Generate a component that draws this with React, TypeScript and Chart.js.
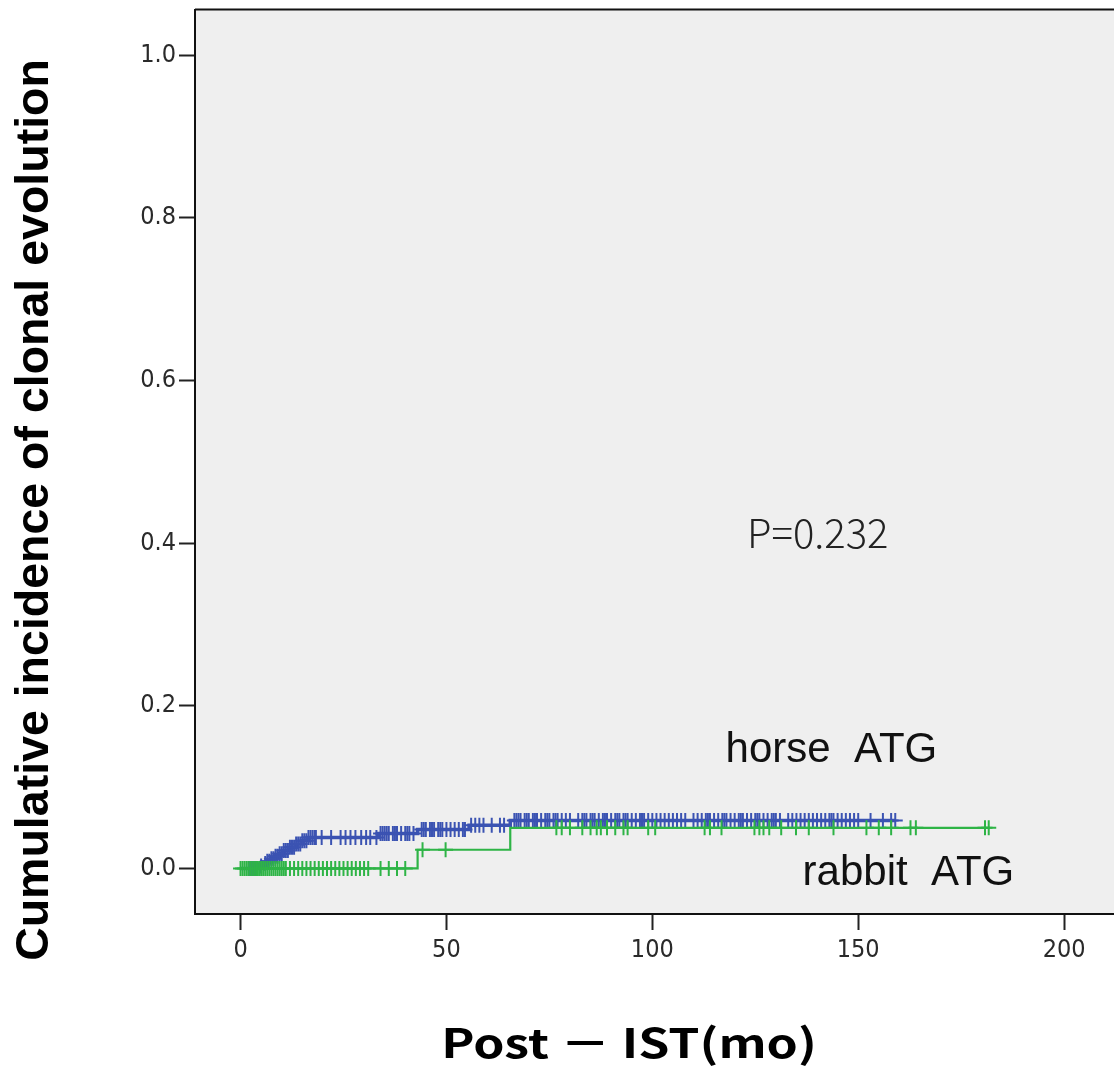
import React, { useEffect, useRef } from "react";
import { Chart, registerables } from "chart.js";

Chart.register(...registerables);

// ---- Data ----
const xTicks = [0, 50, 100, 150, 200];
const yTicks = [0.0, 0.2, 0.4, 0.6, 0.8, 1.0];

// horse ATG: event times (months) and cumulative incidence after each event
const horseEventTimes = [0, 4.5, 5.5, 6.5, 7.5, 8.5, 9.5, 10.5, 12, 13.5, 15, 16.5, 33.5, 43, 55.5, 65.5, 159];
const horseEventValues = [0, 0.003, 0.006, 0.009, 0.012, 0.015, 0.018, 0.022, 0.026, 0.03, 0.034, 0.038, 0.043, 0.048, 0.053, 0.059, 0.059];
const horseCensorTimes = [
  2, 2.5, 3, 3.5, 4, 5, 6, 6.5, 7, 7.5, 8, 8.5, 9, 9.5, 10, 10.5, 11, 11.5, 12, 12.5, 13, 13.5, 14, 14.5,
  15, 15.5, 16, 16.5, 17, 17.5, 18, 18.3, 19.7, 22, 24.3, 25.5, 26.7, 27.9, 29.3, 30.5, 31.5,
  33, 34, 34.5, 35, 35.5, 36, 37, 37.5, 38, 39, 40, 40.5, 41, 42,
  44, 44.5, 45, 46, 46.5, 47, 48, 48.5, 49, 50, 51, 52, 53, 54, 54.5, 56, 57, 58, 59, 61, 63, 64,
  66.5, 67, 67.5, 68, 69, 69.5, 70, 71, 71.5, 72, 73, 74, 74.5, 75, 76, 76.5, 77, 78, 79, 80,
  82, 83, 83.5, 84, 85, 85.5, 86, 87, 88, 88.5, 89, 90, 91, 91.5, 92, 93, 93.5, 94, 95, 96, 97,
  97.5, 98, 99, 100, 101, 102, 103, 104, 105, 106, 107, 108, 110, 111, 112, 113, 113.5, 114,
  115, 116, 117, 117.5, 118, 119, 120, 121, 121.5, 122, 123, 124, 125, 125.5, 126, 127, 128,
  129, 129.5, 130, 131, 133, 134, 135, 136, 137, 138, 139, 140, 141, 142, 143, 143.5, 144, 145,
  146, 147, 148, 149, 150, 153, 156, 158, 159,
];

// rabbit ATG
const rabbitEventTimes = [0, 43, 65.5, 182];
const rabbitEventValues = [0, 0.023, 0.05, 0.05];
const rabbitCensorTimes = [
  0, 0.5, 1, 1.5, 2, 2.5, 3, 3.5, 4, 4.5, 5, 5.5, 6, 6.5, 7, 7.5, 8, 8.5, 9, 9.5, 10, 10.5, 11,
  12, 13, 14, 15, 16, 17, 18, 19, 20, 21, 22, 23, 24, 25, 26, 27, 28, 29, 30, 31, 34, 36, 38, 40,
  44.2, 49.8, 76.7, 78, 80, 83, 85, 86.5, 87.5, 89, 91, 93, 94, 99, 100.7, 112.7, 114, 116.8,
  124.8, 126, 127, 128.4, 131.3, 134.9, 138, 144, 152, 155, 158, 162.7, 164, 180.8, 181.7,
];

const groupLabels = ["horse  ATG", "rabbit  ATG"];
const pValueLabel = "P=0.232";
const yTitle = "Cumulative incidence of clonal evolution";
const xTitle = "Post \uFF0D IST(mo)";

const BLUE = "#3b53b2";
const GREEN = "#2eb446";

function levelAt(times: number[], values: number[], t: number): number {
  let v = values[0];
  for (let i = 0; i < times.length; i++) {
    if (times[i] <= t) v = values[i];
  }
  return v;
}

function curve(times: number[], values: number[]) {
  return times.map((t, i) => ({ x: t, y: values[i] }));
}

function censors(ct: number[], times: number[], values: number[]) {
  return ct.map((t) => ({ x: t, y: levelAt(times, values, t) }));
}

const framePlugin = {
  id: "frame",
  beforeDraw(chart: any) {
    const { ctx, chartArea } = chart;
    ctx.save();
    ctx.fillStyle = "#efefef";
    ctx.fillRect(chartArea.left, chartArea.top, chartArea.right - chartArea.left, chartArea.bottom - chartArea.top);
    ctx.restore();
  },
  afterDraw(chart: any) {
    const { ctx, chartArea, scales } = chart;
    ctx.save();
    ctx.strokeStyle = "#111";
    ctx.lineWidth = 2;
    ctx.beginPath();
    ctx.moveTo(chartArea.left, chartArea.top);
    ctx.lineTo(chartArea.right, chartArea.top);
    ctx.stroke();

    // annotations
    const xs = scales.x;
    const ys = scales.y;
    ctx.textBaseline = "middle";
    ctx.textAlign = "left";
    ctx.fillStyle = "#222";
    ctx.font = "300 40px 'Noto Sans CJK JP', 'Noto Sans', sans-serif";
    ctx.fillText(pValueLabel, xs.getPixelForValue(123), ys.getPixelForValue(0.413));

    ctx.fillStyle = "#111";
    ctx.font = "400 42px 'Liberation Sans', Arial, sans-serif";
    ctx.fillText(groupLabels[0], xs.getPixelForValue(117.8), ys.getPixelForValue(0.145));
    ctx.fillText(groupLabels[1], xs.getPixelForValue(136.5), ys.getPixelForValue(-0.006));

    // y title
    ctx.save();
    ctx.translate(35, 510);
    ctx.rotate(-Math.PI / 2);
    ctx.textAlign = "center";
    ctx.textBaseline = "middle";
    ctx.fillStyle = "#000";
    ctx.font = "bold 46.5px 'Liberation Sans', Arial, sans-serif";
    ctx.fillText(yTitle, 0, 0);
    ctx.restore();

    // x title
    ctx.save();
    ctx.translate(629, 1043);
    ctx.scale(1.25, 1);
    ctx.textAlign = "center";
    ctx.textBaseline = "middle";
    ctx.fillStyle = "#000";
    ctx.font = "bold 40px 'Noto Sans CJK JP', sans-serif";
    ctx.fillText(xTitle, 0, 0);
    ctx.restore();
    ctx.restore();
  },
};

export default function App() {
  const ref = useRef<HTMLCanvasElement | null>(null);
  useEffect(() => {
    if (!ref.current) return;
    const tickFont = { family: "'Liberation Sans Narrow', 'DejaVu Sans Condensed', 'Liberation Sans', sans-serif", size: 25 };
    const chart = new Chart(ref.current, {
      type: "line",
      data: {
        datasets: [
          {
            label: "rabbit censor",
            data: censors(rabbitCensorTimes, rabbitEventTimes, rabbitEventValues),
            showLine: false,
            pointStyle: "cross",
            pointRadius: 7.5,
            borderColor: GREEN,
            backgroundColor: GREEN,
            borderWidth: 2,
          },
          {
            label: "rabbit ATG",
            data: curve(rabbitEventTimes, rabbitEventValues),
            stepped: true,
            pointRadius: 0,
            borderColor: GREEN,
            borderWidth: 2.2,
            fill: false,
          },
          {
            label: "horse censor",
            data: censors(horseCensorTimes, horseEventTimes, horseEventValues),
            showLine: false,
            pointStyle: "cross",
            pointRadius: 7.5,
            borderColor: BLUE,
            backgroundColor: BLUE,
            borderWidth: 2,
          },
          {
            label: "horse ATG",
            data: curve(horseEventTimes, horseEventValues),
            stepped: true,
            pointRadius: 0,
            borderColor: BLUE,
            borderWidth: 3.5,
            fill: false,
          },
        ],
      },
      options: {
        responsive: false,
        animation: false,
        devicePixelRatio: 1,
        layout: { padding: { top: 6, right: 0, left: 0, bottom: 0 } },
        plugins: { legend: { display: false }, tooltip: { enabled: false }, title: { display: false } },
        scales: {
          x: {
            type: "linear",
            min: -11.06,
            max: 213.7,
            afterBuildTicks: (s: any) => {
              s.ticks = xTicks.map((v) => ({ value: v }));
            },
            afterFit: (s: any) => {
              s.height = 160;
              s.paddingLeft = 0;
              s.paddingRight = 0;
            },
            grid: { display: true, drawOnChartArea: false, drawTicks: true, tickLength: 16, tickColor: "#222", tickWidth: 2 },
            border: { display: true, color: "#111", width: 2 },
            ticks: { color: "#2a2a2a", font: tickFont, padding: 5, maxRotation: 0, autoSkip: false },
          },
          y: {
            type: "linear",
            min: -0.056,
            max: 1.056,
            afterBuildTicks: (s: any) => {
              s.ticks = yTicks.map((v) => ({ value: v }));
            },
            afterFit: (s: any) => {
              s.width = 195;
              s.paddingTop = 0;
              s.paddingBottom = 0;
            },
            grid: { display: true, drawOnChartArea: false, drawTicks: true, tickLength: 16, tickColor: "#222", tickWidth: 2 },
            border: { display: true, color: "#111", width: 2 },
            ticks: {
              color: "#2a2a2a",
              font: tickFont,
              padding: 3,
              autoSkip: false,
              callback: (v: any) => Number(v).toFixed(1),
            },
          },
        },
      },
      plugins: [framePlugin],
    } as any);
    return () => chart.destroy();
  }, []);

  return (
    <div style={{ position: "absolute", left: 0, top: 0, width: 1114, height: 1074, overflow: "hidden", background: "#fff" }}>
      <canvas ref={ref} width={1130} height={1074} style={{ display: "block" }} />
    </div>
  );
}
